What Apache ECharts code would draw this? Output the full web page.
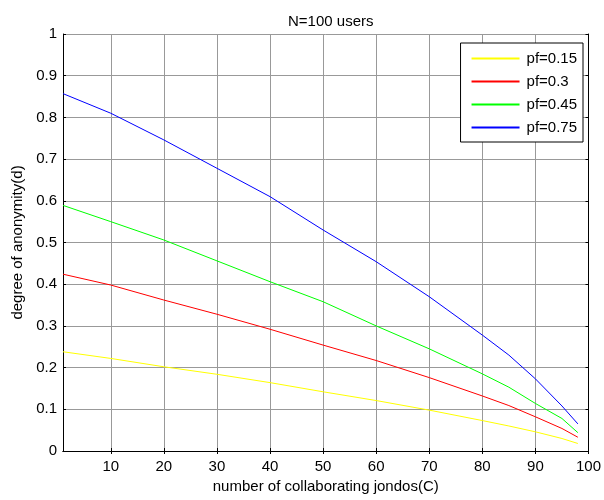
<!DOCTYPE html>
<html lang="en">
<head>
  <meta charset="UTF-8">
  <title>N=100 users</title>
  <script src="https://cdn.jsdelivr.net/npm/echarts@6/dist/echarts.min.js"></script>
  <style>
    body { margin: 0; background: #fff; }
    #chart { width: 604px; height: 500px; }
  </style>
</head>
<body>
  <div id="chart"></div>
  <script>
    // number of collaborating jondos (C)
    var aC = [1, 10, 20, 30, 40, 50, 60, 70, 80, 85, 90, 95, 98];
    // degree of anonymity for each pf
    var aPf015 = [0.238, 0.222, 0.202, 0.184, 0.164, 0.142, 0.121, 0.098, 0.073, 0.060, 0.046, 0.030, 0.018];
    var aPf030 = [0.424, 0.398, 0.362, 0.328, 0.292, 0.254, 0.217, 0.176, 0.132, 0.109, 0.082, 0.054, 0.033];
    var aPf045 = [0.589, 0.550, 0.506, 0.456, 0.406, 0.358, 0.300, 0.245, 0.185, 0.153, 0.114, 0.078, 0.044];
    var aPf075 = [0.857, 0.810, 0.746, 0.678, 0.610, 0.530, 0.454, 0.370, 0.278, 0.230, 0.173, 0.108, 0.065];
    var aNames = ['pf=0.15', 'pf=0.3', 'pf=0.45', 'pf=0.75'];
    var aColors = ['#ffff00', '#ff0000', '#00ff00', '#0000ff'];
    var aXTicks = [10, 20, 30, 40, 50, 60, 70, 80, 90, 100];

    function pairs(ys) {
      var out = [];
      for (var i = 0; i < aC.length; i++) {
        out.push([aC[i], ys[i]]);
      }
      return out;
    }

    var font = 'Liberation Sans, Arial, sans-serif';
    var oChart = echarts.init(document.getElementById('chart'));

    var aSeries = [aPf015, aPf030, aPf045, aPf075].map(function (ys, i) {
      return {
        name: aNames[i],
        type: 'line',
        symbol: 'none',
        animation: false,
        lineStyle: { color: aColors[i], width: 1 },
        itemStyle: { color: aColors[i] },
        data: pairs(ys)
      };
    });

    var chartopt = {
      backgroundColor: '#fff',
      title: {
        text: 'N=100 users',
        left: 283,
        top: 9,
        textStyle: { fontFamily: font, fontSize: 15, fontWeight: 'normal', color: '#000' }
      },
      legend: {
        data: aNames,
        orient: 'vertical',
        right: 21,
        top: 43,
        itemWidth: 48,
        itemHeight: 14,
        itemGap: 8,
        padding: [8, 6, 7, 10],
        borderColor: '#000',
        borderWidth: 1,
        backgroundColor: '#fff',
        itemStyle: { opacity: 0 },
        textStyle: { fontFamily: font, fontSize: 15, color: '#000', padding: [0, 0, 0, 2] }
      },
      grid: {
        left: 63,
        right: 13,
        top: 34,
        bottom: 49
      },
      xAxis: [
        {
          type: 'value',
          min: 1,
          max: 100,
          name: 'number of collaborating jondos(C)',
          nameLocation: 'middle',
          nameGap: 28,
          nameTextStyle: { fontFamily: font, fontSize: 15, color: '#000' },
          axisLine: { lineStyle: { color: '#000', width: 1 } },
          axisTick: { inside: true, length: 3, customValues: aXTicks, lineStyle: { color: '#000' } },
          axisLabel: { customValues: aXTicks, fontFamily: font, fontSize: 15, color: '#000', margin: 8 },
          splitLine: { show: true, lineStyle: { color: '#999', width: 1 } }
        },
        {
          type: 'value',
          position: 'top',
          min: 1,
          max: 100,
          axisLine: { show: true, lineStyle: { color: '#000', width: 1 } },
          axisTick: { show: true, inside: true, length: 3, customValues: aXTicks, lineStyle: { color: '#000' } },
          axisLabel: { show: false },
          splitLine: { show: false }
        }
      ],
      yAxis: [
        {
          type: 'value',
          min: 0,
          max: 1,
          interval: 0.1,
          name: 'degree of anonymity(d)',
          nameLocation: 'middle',
          nameGap: 37,
          nameTextStyle: { fontFamily: font, fontSize: 15, color: '#000' },
          axisLine: { show: true, lineStyle: { color: '#000', width: 1 } },
          axisTick: { show: true, inside: true, length: 3, lineStyle: { color: '#000' } },
          axisLabel: { fontFamily: font, fontSize: 15, color: '#000', margin: 6 },
          splitLine: { show: true, lineStyle: { color: '#999', width: 1 } }
        },
        {
          type: 'value',
          position: 'right',
          min: 0,
          max: 1,
          interval: 0.1,
          axisLine: { show: true, lineStyle: { color: '#000', width: 1 } },
          axisTick: { show: true, inside: true, length: 3, lineStyle: { color: '#000' } },
          axisLabel: { show: false },
          splitLine: { show: false }
        }
      ],
      series: aSeries
    };

    oChart.setOption(chartopt);
  </script>
</body>
</html>
